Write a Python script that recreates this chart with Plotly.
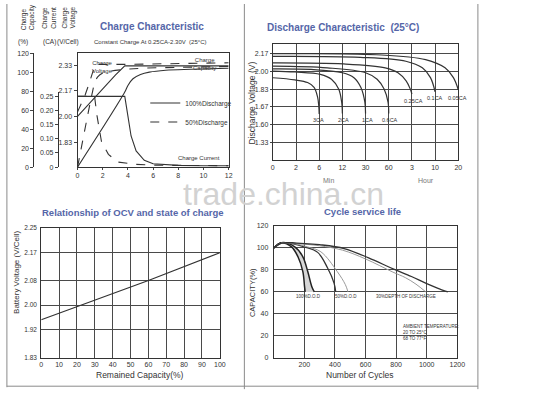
import plotly.graph_objects as go

W, H = 533, 400

# ---------------- Charge characteristic (top-left) ----------------
chg_hour_ticks = [0, 2, 4, 6, 8, 10, 12]
volt_ticks = [1.83, 2.00, 2.17, 2.33]
cap_ticks = [0, 20, 40, 60, 80, 100, 120]
cur_ticks = [0, 0.05, 0.10, 0.15, 0.20, 0.25]

volt_full_h = [0, 1.0, 2.0, 3.0, 3.75, 6, 9, 12]
volt_full_v = [2.00, 2.09, 2.18, 2.27, 2.33, 2.33, 2.33, 2.33]
volt_half_h = [0, 0.3, 0.6, 0.9, 1.2, 1.4, 4, 8, 12]
volt_half_v = [2.03, 2.08, 2.14, 2.21, 2.29, 2.34, 2.34, 2.345, 2.35]

cur_full_h = [0, 3.75, 4.0, 4.25, 4.65, 5.3, 6.0, 7, 8, 10, 12]
cur_full_i = [0.25, 0.25, 0.18, 0.11, 0.057, 0.024, 0.012, 0.008, 0.006, 0.005, 0.005]
cur_half_h = [0, 1.35, 1.55, 1.9, 2.45, 3.2, 4.5, 6, 8, 10, 12]
cur_half_i = [0.25, 0.25, 0.18, 0.09, 0.045, 0.018, 0.01, 0.007, 0.006, 0.005, 0.005]

cap_full_h = [0, 3.75, 4.0, 4.4, 5.0, 5.7, 7, 9, 12]
cap_full_c = [0, 79, 86, 93, 97.5, 100, 102, 103, 104]
cap_half_h = [0, 1.15, 1.35, 1.6, 2.0, 2.6, 3.5, 5, 8, 12]
cap_half_c = [0, 77, 88, 95, 99, 101, 102.5, 104, 105, 106]

# ---------------- Discharge characteristic (top-right) ----------------
dis_x_labels = ["0", "2", "6", "12", "30", "60", "3", "10", "20"]
dis_y_vals = [2.167, 2.0, 1.833, 1.667, 1.5, 1.333]
dis_y_labels = ["2.17", "2.00", "1.83", "1.67", "1.60", "1.33"]
dis_names = ["3CA", "2CA", "1CA", "0.6CA", "0.25CA", "0.1CA", "0.05CA"]
dis_x = [
    [0, 0.95, 1.5, 1.78, 1.93, 1.98, 2.0],
    [0, 0.95, 2.05, 2.53, 2.84, 2.97, 3.0],
    [0, 1.65, 3.0, 3.5, 3.8, 3.97, 4.0],
    [0, 2.35, 4.0, 4.5, 4.8, 4.97, 5.0],
    [0, 3.05, 4.85, 5.4, 5.75, 5.93, 6.0],
    [0, 3.77, 5.74, 6.45, 6.8, 7.0],
    [0, 4.47, 6.59, 7.43, 7.79, 8.0],
]
dis_v = [
    [1.94, 1.92, 1.895, 1.85, 1.76, 1.68, 1.60],
    [2.003, 1.994, 1.972, 1.926, 1.834, 1.711, 1.604],
    [2.024, 2.018, 1.987, 1.941, 1.849, 1.711, 1.604],
    [2.049, 2.033, 1.987, 1.926, 1.834, 1.711, 1.604],
    [2.080, 2.070, 2.033, 1.987, 1.911, 1.834, 1.788],
    [2.141, 2.132, 2.095, 2.033, 1.941, 1.809],
    [2.165, 2.156, 2.110, 2.033, 1.941, 1.828],
]

# ---------------- OCV vs state of charge (bottom-left) ----------------
ocv_x_ticks = [0, 10, 20, 30, 40, 50, 60, 70, 80, 90, 100]
ocv_y_ticks = [1.83, 1.92, 2.00, 2.08, 2.17, 2.25]
ocv_soc = [0, 22, 60, 100]
ocv_volt = [1.953, 2.00, 2.08, 2.17]

# ---------------- Cycle service life (bottom-right) ----------------
cyc_x_ticks = [200, 400, 600, 800, 1000, 1200]
cyc_y_ticks = [0, 20, 40, 60, 80, 100, 120]
dod100_in_x = [0, 50, 116, 158, 190, 201, 205]
dod100_in_y = [100, 104.8, 101, 92, 78.5, 65, 60]
dod100_out_x = [0, 50, 137, 190, 222, 248, 265]
dod100_out_y = [100, 104.8, 101, 92, 78.5, 65, 60]
dod50_in_x = [0, 50, 120, 200, 287, 351, 394, 405]
dod50_in_y = [100, 104.5, 104, 101, 96, 82, 68, 60]
dod50_out_x = [0, 50, 130, 220, 308, 415, 468, 485]
dod50_out_y = [100, 104.5, 104, 101, 96.5, 78.5, 66.6, 60]
dod30_in_x = [0, 50, 150, 300, 450, 600, 779, 860, 930, 994]
dod30_in_y = [100, 104.5, 104, 102, 98, 90, 78, 73, 67, 60]
dod30_out_x = [0, 50, 150, 300, 460, 620, 780, 900, 1000, 1070, 1138]
dod30_out_y = [100, 104.5, 104.5, 103, 99.5, 91, 81, 74, 67.5, 63.5, 60]

# ---------------------------------------------------------------------
INK = "#333333"
GRID = "#4a4a4a"
TITLE = "#5566a8"
FONT = "Liberation Sans"


def px(x):
    return x / W


def py(y):
    return 1 - y / H


fig = go.Figure()

# top-left traces
fig.add_trace(go.Scatter(x=volt_full_h, y=volt_full_v, xaxis="x", yaxis="y", mode="lines",
                         line=dict(color=INK, width=1.1), name="100%Discharge", showlegend=True))
fig.add_trace(go.Scatter(x=volt_half_h, y=volt_half_v, xaxis="x", yaxis="y", mode="lines",
                         line=dict(color=INK, width=1.1, dash="dash"), name="50%Discharge", showlegend=True))
fig.add_trace(go.Scatter(x=cap_full_h, y=cap_full_c, xaxis="x", yaxis="y2", mode="lines", line_shape="spline",
                         line=dict(color=INK, width=1.1), showlegend=False))
fig.add_trace(go.Scatter(x=cap_half_h, y=cap_half_c, xaxis="x", yaxis="y2", mode="lines", line_shape="spline",
                         line=dict(color=INK, width=1.1, dash="dash"), showlegend=False))
fig.add_trace(go.Scatter(x=cur_full_h, y=cur_full_i, xaxis="x", yaxis="y3", mode="lines",
                         line=dict(color=INK, width=1.1), showlegend=False))
fig.add_trace(go.Scatter(x=cur_half_h, y=cur_half_i, xaxis="x", yaxis="y3", mode="lines",
                         line=dict(color=INK, width=1.1, dash="dash"), showlegend=False))

# top-right traces
for xs, vs in zip(dis_x, dis_v):
    fig.add_trace(go.Scatter(x=xs, y=vs, xaxis="x2", yaxis="y4", mode="lines", line_shape="spline",
                             line=dict(color=INK, width=1.2), showlegend=False))

# bottom-left trace
fig.add_trace(go.Scatter(x=ocv_soc, y=ocv_volt, xaxis="x3", yaxis="y5", mode="lines",
                         line=dict(color=INK, width=1.2), showlegend=False))

# bottom-right traces
fig.add_trace(go.Scatter(x=dod100_in_x + dod100_out_x[::-1], y=dod100_in_y + dod100_out_y[::-1],
                         xaxis="x4", yaxis="y6", mode="lines", fill="toself", fillcolor="#d6d6d6",
                         line=dict(width=0), showlegend=False))
for xs, ys, col, wd in [
    (dod100_in_x, dod100_in_y, "#222", 1.5), (dod100_out_x, dod100_out_y, "#222", 1.5),
    (dod50_in_x, dod50_in_y, "#333", 1.3), (dod50_out_x, dod50_out_y, "#9a9a9a", 1.0),
    (dod30_in_x, dod30_in_y, "#9a9a9a", 1.0), (dod30_out_x, dod30_out_y, "#333", 1.3),
]:
    fig.add_trace(go.Scatter(x=xs, y=ys, xaxis="x4", yaxis="y6", mode="lines", line_shape="spline",
                             line=dict(color=col, width=wd), showlegend=False))

tickfont = dict(family=FONT, size=7, color=INK)
common = dict(showline=True, linecolor=INK, linewidth=1, tickfont=tickfont, zeroline=False)

fig.update_layout(
    width=W, height=H, autosize=False,
    margin=dict(l=0, r=0, t=0, b=0),
    paper_bgcolor="white", plot_bgcolor="rgba(0,0,0,0)",
    font=dict(family=FONT, color=INK),
    # top-left
    xaxis=dict(domain=[px(77), px(231)], anchor="y", range=[0, 12], tickvals=chg_hour_ticks,
               mirror=True, ticks="outside", ticklen=2, showgrid=False, **common),
    yaxis=dict(domain=[py(166), py(50)], anchor="x", range=[1.67, 2.413], tickvals=volt_ticks,
               ticktext=["1.83", "2.00", "2.17", "2.33"], mirror=True, ticks="outside", ticklen=3,
               showgrid=False, **common),
    yaxis2=dict(overlaying="y", anchor="free", position=px(32), side="left", range=[0, 120],
                tickvals=cap_ticks, ticks="outside", ticklen=3, showgrid=False, **common),
    yaxis3=dict(domain=[py(166), py(90)], anchor="free", position=px(57), side="left",
                range=[0, 0.264], tickvals=cur_ticks,
                ticktext=["0", "0.05", "0.10", "0.15", "0.20", "0.25"], ticks="outside", ticklen=3,
                showgrid=False, **common),
    # top-right
    xaxis2=dict(domain=[px(276), px(465)], anchor="y4", range=[0, 8], tickvals=list(range(9)),
                ticktext=dis_x_labels, mirror=True, showgrid=True, gridcolor=GRID, gridwidth=1,
                ticks="", **common),
    yaxis4=dict(domain=[py(159), py(41)], anchor="x2", range=[1.167, 2.254], tickvals=dis_y_vals,
                ticktext=dis_y_labels, mirror=True, showgrid=True, gridcolor=GRID, gridwidth=1,
                ticks="outside", ticklen=2, **common),
    # bottom-left
    xaxis3=dict(domain=[px(40), px(222)], anchor="y5", range=[0, 100], tickvals=ocv_x_ticks,
                mirror=True, showgrid=True, gridcolor=GRID, gridwidth=1.2, ticks="", **common),
    yaxis5=dict(domain=[py(360), py(228)], anchor="x3", range=[1.83, 2.25], tickvals=ocv_y_ticks,
                ticktext=["1.83", "1.92", "2.00", "2.08", "2.17", "2.25"], mirror=True, showgrid=True,
                gridcolor=GRID, gridwidth=1.2, ticks="outside", ticklen=2, tickcolor="white",
                showline=True, linecolor=INK, linewidth=1, zeroline=False,
                tickfont=dict(family=FONT, size=6.5, color=INK)),
    # bottom-right
    xaxis4=dict(domain=[px(277), px(464)], anchor="y6", range=[0, 1200], tickvals=cyc_x_ticks,
                mirror=True, showgrid=True, gridcolor=GRID, gridwidth=1, ticks="", **common),
    yaxis6=dict(domain=[py(360), py(226)], anchor="x4", range=[0, 120], tickvals=cyc_y_ticks,
                mirror=True, showgrid=True, gridcolor=GRID, gridwidth=1, ticks="outside", ticklen=3,
                tickcolor="white", **common),
    legend=dict(x=px(146), y=py(86), xanchor="left", yanchor="top", bgcolor="rgba(0,0,0,0)",
                font=dict(family=FONT, size=6.5, color=INK), itemwidth=30, tracegroupgap=4),
)

annotations = []


def ann(x, y, text, size=7, color=INK, angle=0, xanchor="center", yanchor="middle", bold=False,
        align="center", family=FONT):
    if bold:
        text = "<b>" + text + "</b>"
    annotations.append(dict(x=px(x), y=py(y), xref="paper", yref="paper", text=text, showarrow=False,
                            textangle=angle, xanchor=xanchor, yanchor=yanchor, align=align,
                            font=dict(family=family, size=size, color=color)))


# watermark
ann(287, 193, "trade.china.cn", size=32, color="#d2d2d2")

# top-left texts
ann(26, 14, "Charge<br>Capacity", size=6.5, angle=-90, align="left")
ann(48, 14, "Charge<br>Current", size=6.5, angle=-90, align="left")
ann(68, 14, "Charge<br>Voltage", size=6.5, angle=-90, align="left")
ann(21, 39, "(%)", size=6.5)
ann(48, 39, "(CA)", size=6.5)
ann(67, 39, "(V/Cell)", size=6.5)
ann(153, 23, "Charge Characteristic", size=10, color=TITLE, bold=True)
ann(151, 39, "Constant Charge At 0.25CA-2.30V  (25°C)", size=6)
ann(102, 64, "Charge<br>Voltage", size=6)
ann(206, 61, "Charge<br>Capacity", size=6)
ann(201, 157, "Charge Current", size=6)

# top-right texts
ann(348, 24, "Discharge Characteristic  (25°C)", size=10, color=TITLE, bold=True)
ann(255, 101, "Discharge Voltage (V)", size=8.5, angle=-90)
for name, lx, ly in zip(dis_names, [323, 348, 372, 395, 419, 441, 464], [118, 118, 118, 118, 99, 96, 96]):
    ann(lx, ly, name, size=5.5)
ann(333, 180, "Min", size=7, color="#777")
ann(432, 180, "Hour", size=7, color="#777")

# bottom-left texts
ann(134, 212, "Relationship of OCV and state of charge", size=9.5, color=TITLE, bold=True)
ann(14, 273, "Battery Voltage (V/Cell)", size=8, angle=-90)
ann(141, 378, "Remained Capacity(%)", size=8.5)

# bottom-right texts
ann(367, 211, "Cycle service life", size=9.5, color=TITLE, bold=True)
ann(256, 294, "CAPACITY(%)", size=7.5, angle=-90)
ann(365, 378, "Number of Cycles", size=8.5)
ann(312, 298, "100%D.O.D", size=4.5)
ann(351, 298, "50%D.O.D", size=4.5)
ann(412, 298, "30%DEPTH OF DISCHARGE", size=4.5)
ann(407, 334, "AMBIENT TEMPERATURE:<br>20 TO 25°C<br>68 TO 77°F", size=4.5, xanchor="left", align="left")

fig.update_layout(annotations=annotations)

# panel frame lines (decoration)
shapes = []
for x0, y0, x1, y1 in [(247, 0, 247, 392), (485, 0, 485, 392), (5, 0, 5, 390), (5, 389, 485, 389)]:
    shapes.append(dict(type="line", xref="paper", yref="paper", x0=px(x0), y0=py(y0), x1=px(x1), y1=py(y1),
                       line=dict(color="#8a8a8a", width=1)))
fig.update_layout(shapes=shapes)

fig.write_html("out.html")
